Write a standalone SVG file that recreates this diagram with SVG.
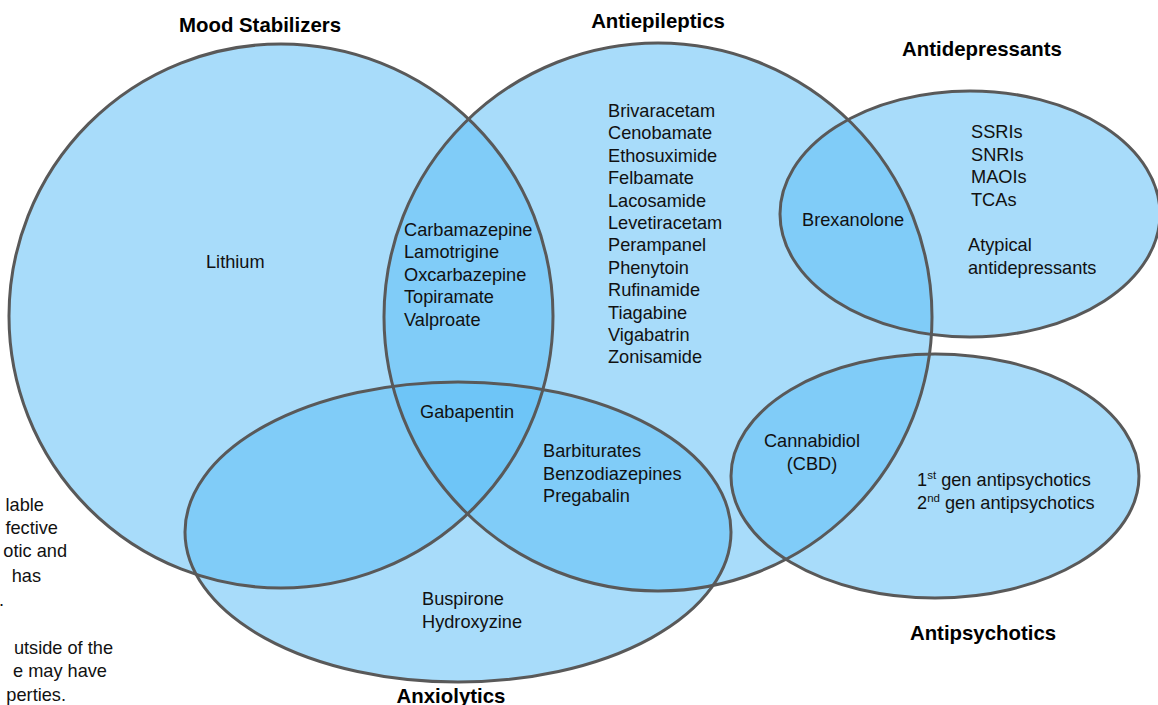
<svg xmlns="http://www.w3.org/2000/svg" xmlns:xlink="http://www.w3.org/1999/xlink" width="1158" height="705" viewBox="0 0 1158 705">
<style>
.fill{fill:rgb(94,190,246);fill-opacity:0.54;stroke:none}
.outline{fill:none;stroke:#595959;stroke-width:3}
.t{font-family:"Liberation Sans",Arial,sans-serif;font-size:18.2px;fill:#111}
.h{font-family:"Liberation Sans",Arial,sans-serif;font-size:20.4px;font-weight:bold;fill:#000;text-anchor:middle}
.sup{font-size:11.5px}
</style>
<defs>
<circle id="s-mood" cx="281" cy="316" r="272"/>
<circle id="s-aed" cx="658" cy="317" r="274"/>
<ellipse id="s-ad" cx="970" cy="214" rx="190" ry="123"/>
<ellipse id="s-ap" cx="935" cy="476" rx="204" ry="122"/>
<ellipse id="s-ax" cx="458" cy="532" rx="273" ry="150"/>
</defs>
<rect width="1158" height="705" fill="#ffffff"/>

<g id="note-left" class="t">
<text x="44" y="511" text-anchor="end">lable</text>
<text x="58" y="534" text-anchor="end">fective</text>
<text x="67" y="557" text-anchor="end">otic and</text>
<text x="41" y="582" text-anchor="end">has</text>
<text x="4" y="606" text-anchor="end">.</text>
<text x="113" y="654" text-anchor="end">utside of the</text>
<text x="107" y="677" text-anchor="end">e may have</text>
<text x="66" y="701" text-anchor="end">perties.</text>
</g>

<g id="mood-stabilizers">
<use xlink:href="#s-mood" class="fill"/>
<text class="h" x="260" y="32">Mood Stabilizers</text>
<text class="t" x="206" y="268">Lithium</text>
</g>

<g id="antiepileptics">
<use xlink:href="#s-aed" class="fill"/>
<text class="h" x="658" y="28">Antiepileptics</text>
<g class="t">
<text x="608" y="117">Brivaracetam</text>
<text x="608" y="139.4">Cenobamate</text>
<text x="608" y="161.8">Ethosuximide</text>
<text x="608" y="184.2">Felbamate</text>
<text x="608" y="206.6">Lacosamide</text>
<text x="608" y="229">Levetiracetam</text>
<text x="608" y="251.4">Perampanel</text>
<text x="608" y="273.8">Phenytoin</text>
<text x="608" y="296.2">Rufinamide</text>
<text x="608" y="318.6">Tiagabine</text>
<text x="608" y="341">Vigabatrin</text>
<text x="608" y="363.4">Zonisamide</text>
</g>
<g class="t">
<text x="404" y="236">Carbamazepine</text>
<text x="404" y="258.4">Lamotrigine</text>
<text x="404" y="280.8">Oxcarbazepine</text>
<text x="404" y="303.2">Topiramate</text>
<text x="404" y="325.6">Valproate</text>
</g>
</g>

<g id="antidepressants">
<use xlink:href="#s-ad" class="fill"/>
<text class="h" x="982" y="56">Antidepressants</text>
<g class="t">
<text x="802" y="226">Brexanolone</text>
<text x="971" y="138">SSRIs</text>
<text x="971" y="160.6">SNRIs</text>
<text x="971" y="183.2">MAOIs</text>
<text x="971" y="205.8">TCAs</text>
<text x="968" y="251">Atypical</text>
<text x="968" y="273.5">antidepressants</text>
</g>
</g>

<g id="antipsychotics">
<use xlink:href="#s-ap" class="fill"/>
<text class="h" x="983" y="640">Antipsychotics</text>
<g class="t">
<text x="812" y="447" text-anchor="middle">Cannabidiol</text>
<text x="812" y="470" text-anchor="middle">(CBD)</text>
<text x="917" y="486">1<tspan class="sup" dy="-7">st</tspan><tspan dy="7"> gen antipsychotics</tspan></text>
<text x="917" y="509">2<tspan class="sup" dy="-7">nd</tspan><tspan dy="7"> gen antipsychotics</tspan></text>
</g>
</g>

<g id="anxiolytics">
<use xlink:href="#s-ax" class="fill"/>
<text class="h" x="451" y="703">Anxiolytics</text>
<g class="t">
<text x="420" y="418">Gabapentin</text>
<text x="543" y="457">Barbiturates</text>
<text x="543" y="479.5">Benzodiazepines</text>
<text x="543" y="502">Pregabalin</text>
<text x="422" y="605">Buspirone</text>
<text x="422" y="628">Hydroxyzine</text>
</g>
</g>

<g id="connectors" class="outline">
<use xlink:href="#s-mood"/>
<use xlink:href="#s-aed"/>
<use xlink:href="#s-ad"/>
<use xlink:href="#s-ap"/>
<use xlink:href="#s-ax"/>
</g>
</svg>
